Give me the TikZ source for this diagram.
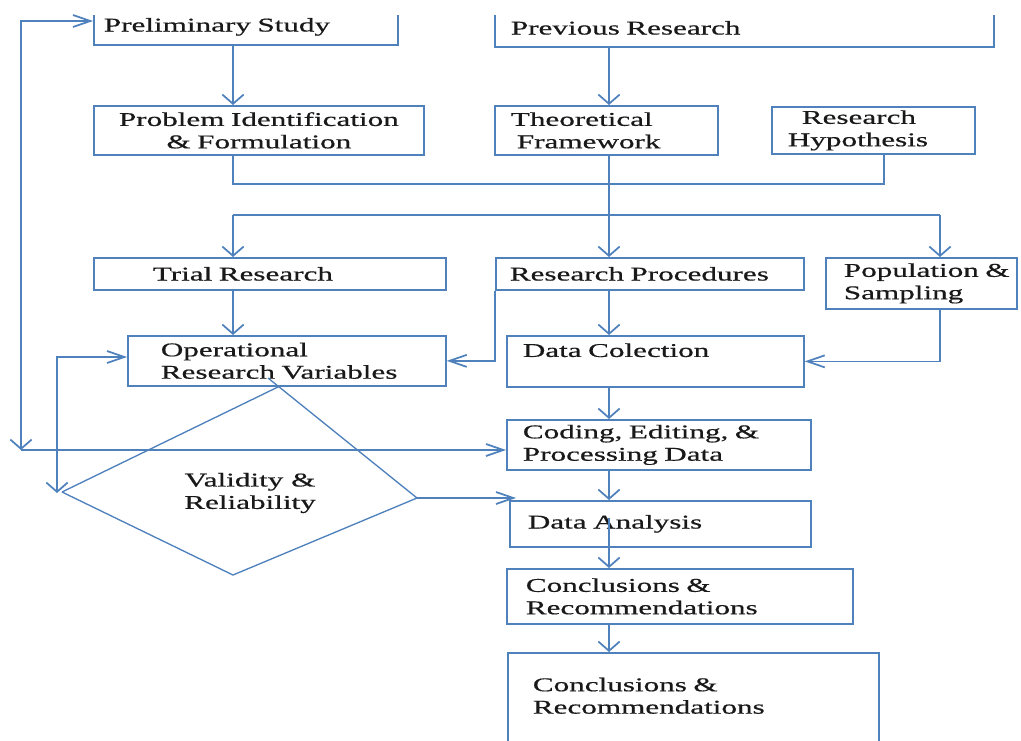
\documentclass[tikz,border=0pt]{standalone}
\usepackage{fontspec}
\setmainfont[FakeStretch=1.6,FakeBold=0.6]{Liberation Serif}
\usetikzlibrary{arrows.meta,calc}
\definecolor{lb}{RGB}{79,129,189}
\definecolor{tx}{RGB}{25,25,25}
\newdimen\px \px=0.75pt
\begin{document}
\begin{tikzpicture}[x=0.75pt,y=-0.75pt,
  vtip/.tip={Straight Barb[length=7pt,width=16pt]},
  htip/.tip={Straight Barb[length=13pt,width=9pt]},
  bx/.style n args={3}{draw=lb, line width=1.3pt, minimum width=#1\px, minimum height=#2\px,
     text width=#3\px, align=left, inner sep=0pt, anchor=north west, text=tx,
     font=\fontsize{14.6}{16.8}\selectfont},
  con/.style={draw=lb, line width=1.3pt},
  dia/.style={draw=lb, line width=1pt, line join=round},
  lbl/.style={text=tx, align=center, font=\fontsize{14.6}{16.8}\selectfont},
  ]
\clip (0,0) rectangle (1021,740);
\fill[white] (0,0) rectangle (1021,740);

% top boxes, cut off at the top edge of the picture
\begin{scope}
\clip (0,15) rectangle (1021,740);
\node[bx={304}{36}{284}] (prelim) at (93,8) {Preliminary~Study};
\node[bx={499}{38}{467}] (prev) at (494,8) {Previous~Research};
\end{scope}

% boxes
\node[bx={330}{49}{310}, align=center] (prob) at (93,105) {Problem~Identification\\\&~Formulation};
\node[bx={223}{49}{191}] (theor) at (494,105) {Theoretical\\\hspace*{6\px}Framework};
\node[bx={203}{47}{171}] (hyp) at (771,106) {\hspace*{14\px}Research\\Hypothesis};
\node[bx={352}{32}{234}] (trial) at (93,257) {Trial~Research};
\node[bx={308}{32}{280}] (rp) at (495,257) {Research~Procedures};
\node[bx={191}{51}{155}] (pop) at (825,257) {Population~\&\\Sampling};
\node[bx={318}{50}{252}] (opv) at (127,335) {Operational\\Research~Variables};
\node[bx={297}{51}{265}] (dc) at (506,335) {Data~Colection\\\mbox{}};
\node[bx={304}{50}{272}] (cod) at (506,419) {Coding,~Editing,~\&\\Processing~Data};
\node[bx={301}{46}{265}] (da) at (509,500) {Data~Analysis};
\node[bx={346}{55}{308}] (c1) at (506,568) {Conclusions~\&\\Recommendations};
\node[bx={371}{108}{321}] (c2) at (507,652) {Conclusions~\&\\Recommendations\\\mbox{}};
\node[lbl] (vr) at (250,493) {Validity~\&\\Reliability};

% helper coordinates
\coordinate (colL) at (233,0);
\coordinate (colM) at (609,0);
\coordinate (jL) at (233,184);
\coordinate (jR) at (884,184);
\coordinate (sL) at (233,215);
\coordinate (sR) at (940,215);
\coordinate (l1b) at (21,450);
\coordinate (l1t) at (21,21);
\coordinate (l2b) at (57,493);
\coordinate (l2t) at (57,357);
\coordinate (dT1) at (280,386);
\coordinate (dT2) at (268,378);
\coordinate (dL) at (62,492);
\coordinate (dB) at (233,575);
\coordinate (dR) at (417,498);
\coordinate (dtip) at (516,498);

% connectors
\draw[con,-vtip] (colL |- prelim.south) -- (colL |- prob.north);
\draw[con,-vtip] (colM |- prev.south) -- (colM |- theor.north);
\draw[con] (jL |- prob.south) -- (jL) -- (jR) -- (jR |- hyp.south);
\draw[con,-vtip] (colM |- theor.south) -- (colM |- rp.north);
\draw[con] (sL) -- (sR);
\draw[con,-vtip] (sL) -- (sL |- trial.north);
\draw[con,-vtip] (sR) -- (sR |- pop.north);
\draw[con,-vtip] (sL |- trial.south) -- (sL |- opv.north);
\draw[con,-htip] (rp.south west) -- (rp.south west |- opv.east) -- (opv.east);
\draw[con,-vtip] (colM |- rp.south) -- (colM |- dc.north);
\draw[con,-htip] (sR |- pop.south) -- (sR |- dc.east) -- (dc.east);
\draw[con,-vtip] (colM |- dc.south) -- (colM |- cod.north);
\draw[con,-vtip] (colM |- cod.south) -- (colM |- da.north);
\draw[con,-vtip] ($(colM |- da.center)+(0,-6)$) -- (colM |- c1.north);
\draw[con,-vtip] (colM |- c1.south) -- (colM |- c2.north);

% feedback loops
\draw[con,vtip-htip] (l1b) -- (l1t) -- (l1t -| prelim.west);
\draw[con,-htip] (l1b) -- (l1b -| cod.west);
\draw[con,vtip-htip] (l2b) -- (l2t) -- (l2t -| opv.west);

% diamond
\draw[dia] (dL) -- (dT1);
\draw[dia] (dT2) -- (dR) -- (dB) -- (dL);
\draw[con,-htip] (dR) -- (dtip);
\end{tikzpicture}
\end{document}
